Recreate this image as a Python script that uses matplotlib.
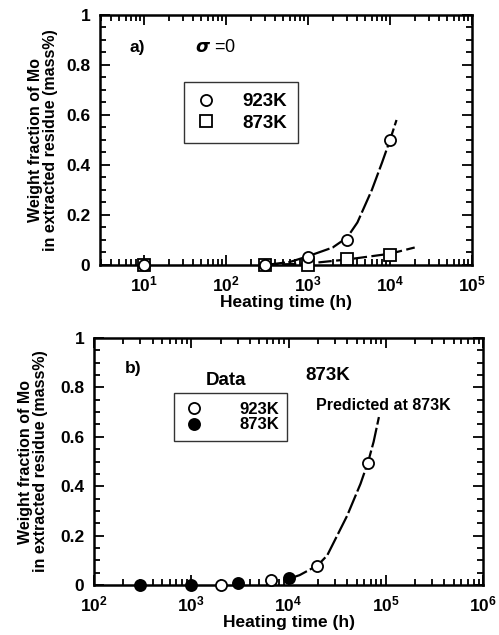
import numpy as np
import matplotlib
matplotlib.use('Agg')
from matplotlib import pyplot as plt
from matplotlib.ticker import LogLocator, MultipleLocator, NullFormatter

plt.rcParams['font.family'] = ['Liberation Sans', 'DejaVu Sans']
plt.rcParams['font.weight'] = 'bold'

# panel a) data
a_t = [10, 300, 1000, 3000, 10000]
a_923 = [0, 0, 0.03, 0.10, 0.50]
a_873 = [0, 0, 0, 0.022, 0.04]
# fitted curves
a_curve923_t = [300, 600, 1000, 2000, 3000, 4000, 6000, 8000, 10000, 12000]
a_curve923_y = [0, 0.012, 0.035, 0.07, 0.11, 0.17, 0.30, 0.41, 0.50, 0.58]
a_curve873_t = [300, 1000, 3000, 10000, 20000]
a_curve873_y = [0, 0.006, 0.022, 0.045, 0.07]

# panel b) data
b_t923 = [2000, 6600, 19500, 66000]
b_923 = [0, 0.022, 0.078, 0.495]
b_t873 = [300, 1000, 3000, 10000]
b_873 = [0, 0, 0.01, 0.03]
b_curve_t = [10000, 13000, 20000, 25000, 40000, 55000, 66000, 75000, 85000]
b_curve_y = [0.025, 0.04, 0.08, 0.12, 0.28, 0.41, 0.50, 0.58, 0.68]

ylabel = 'Weight fraction of Mo\nin extracted residue (mass%)'

fig = plt.figure(figsize=(4.99, 6.35), dpi=100)
ax1 = fig.add_axes([0.2004, 0.5827, 0.7455, 0.3937])
ax2 = fig.add_axes([0.1884, 0.0787, 0.7796, 0.389])


def style(ax, xmin, xmax, lpad):
    ax.set_xscale('log')
    ax.set_xlim(xmin, xmax)
    ax.set_ylim(0, 1)
    ax.xaxis.set_major_locator(LogLocator(base=10, numticks=12))
    ax.xaxis.set_minor_locator(LogLocator(base=10, subs=np.arange(2, 10), numticks=12))
    ax.xaxis.set_minor_formatter(NullFormatter())
    ax.yaxis.set_minor_locator(MultipleLocator(0.05))
    ax.set_yticks([0, 0.2, 0.4, 0.6, 0.8, 1.0])
    ax.set_yticklabels(['0', '0.2', '0.4', '0.6', '0.8', '1'])
    ax.tick_params(which='both', direction='in', top=True, right=True, width=1.3, labelsize=12.5)
    ax.tick_params(which='major', length=7, pad=7)
    ax.tick_params(which='minor', length=4)
    for s in ax.spines.values():
        s.set_linewidth(1.8)
    ax.set_xlabel('Heating time (h)', fontsize=12.5, fontweight='bold', labelpad=0)
    ax.set_ylabel(ylabel, fontsize=11.5, fontweight='bold', linespacing=0.95, labelpad=lpad)


style(ax1, 2.9, 1e5, 6)
style(ax2, 1e2, 1e6, 9)

# panel a
l1, = ax1.plot(a_curve923_t, a_curve923_y, color='black', lw=1.6)
l1.set_dashes([9, 1.5])
l2, = ax1.plot(a_curve873_t, a_curve873_y, color='black', lw=1.6)
l2.set_dashes([6, 2])
h1, = ax1.plot(a_t, a_923, 'o', ms=8, mfc='white', mec='black', mew=1.3, ls='none', clip_on=False, zorder=5)
h2, = ax1.plot(a_t, a_873, 's', ms=8, mfc='white', mec='black', mew=1.3, ls='none', clip_on=False, zorder=4)
leg1 = ax1.legend([h1, h2], ['923K', '873K'], loc='upper left', bbox_to_anchor=(0.2, 0.77),
                  frameon=True, fancybox=False, edgecolor='black', fontsize=13.5,
                  handletextpad=1.3, borderpad=0.6, labelspacing=0.25, handlelength=1.2)
leg1.get_frame().set_linewidth(1.0)
ax1.text(0.08, 0.85, 'a)', transform=ax1.transAxes, fontsize=12.5, fontweight='bold')
ax1.text(0.255, 0.85, r'$\sigma$ =0', transform=ax1.transAxes, fontsize=13, fontweight='normal')

# panel b
l3, = ax2.plot(b_curve_t, b_curve_y, color='black', lw=1.6)
l3.set_dashes([9, 1.5])
h3, = ax2.plot(b_t923, b_923, 'o', ms=8, mfc='white', mec='black', mew=1.3, ls='none', clip_on=False, zorder=5)
h4, = ax2.plot(b_t873, b_873, 'o', ms=8, mfc='black', mec='black', mew=1.3, ls='none', clip_on=False, zorder=5)
leg2 = ax2.legend([h3, h4], ['923K', '873K'], loc='upper left', bbox_to_anchor=(0.185, 0.81),
                  frameon=True, fancybox=False, edgecolor='black', fontsize=12,
                  handletextpad=2.0, borderpad=0.5, labelspacing=0.05, handlelength=1.4)
leg2.get_frame().set_linewidth(1.0)
ax2.text(0.08, 0.86, 'b)', transform=ax2.transAxes, fontsize=12.5, fontweight='bold')
ax2.text(0.34, 0.81, 'Data', transform=ax2.transAxes, fontsize=13.5, fontweight='bold', ha='center')
ax2.text(0.60, 0.83, '873K', transform=ax2.transAxes, fontsize=13.5, fontweight='bold', ha='center')
ax2.text(0.745, 0.71, 'Predicted at 873K', transform=ax2.transAxes, fontsize=11.5, fontweight='bold', ha='center')

fig.savefig('out.png', dpi=100)
